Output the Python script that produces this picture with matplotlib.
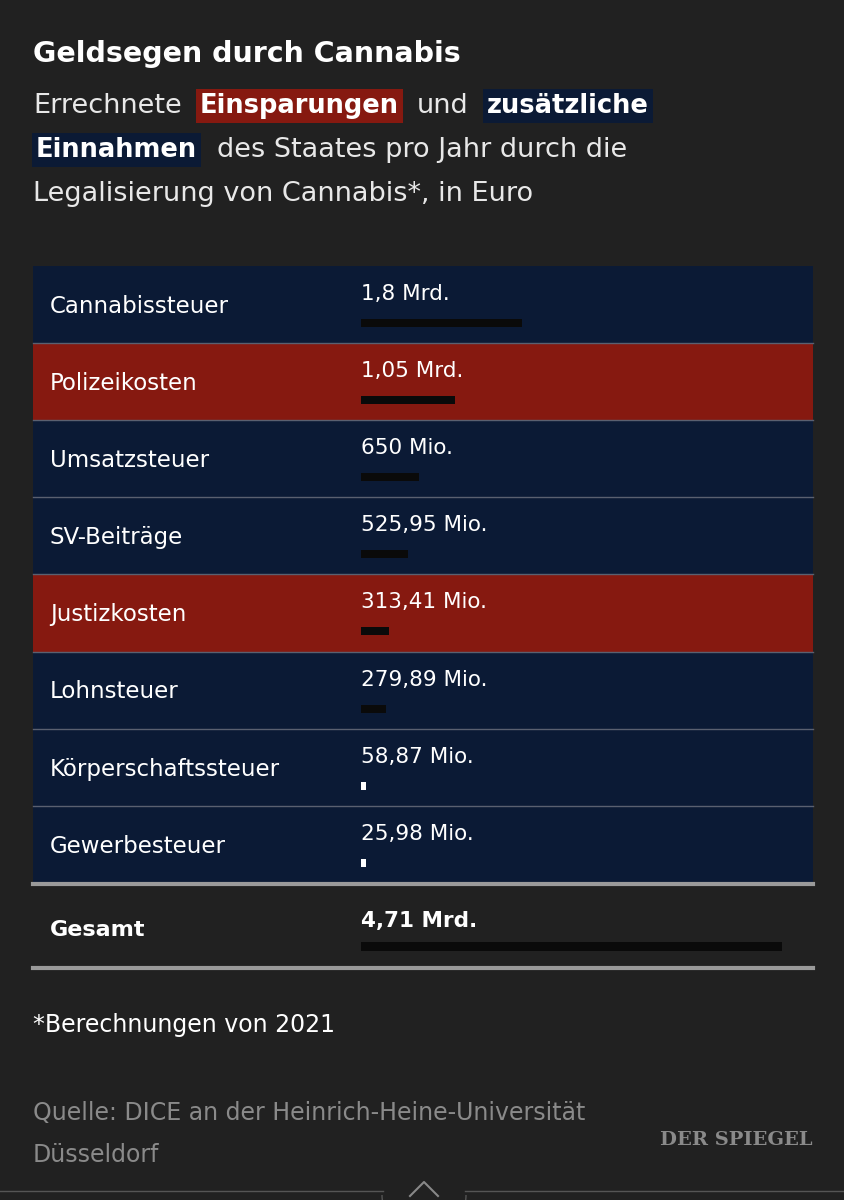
import matplotlib.pyplot as plt
from matplotlib.patches import Rectangle, Arc

labels = ["Cannabissteuer", "Polizeikosten", "Umsatzsteuer", "SV-Beiträge",
          "Justizkosten", "Lohnsteuer", "Körperschaftssteuer", "Gewerbesteuer"]
values_mrd = [1.8, 1.05, 0.65, 0.52595, 0.31341, 0.27989, 0.05887, 0.02598]
value_labels = ["1,8 Mrd.", "1,05 Mrd.", "650 Mio.", "525,95 Mio.", "313,41 Mio.",
                "279,89 Mio.", "58,87 Mio.", "25,98 Mio."]
kinds = ["ein", "spar", "ein", "ein", "spar", "ein", "ein", "ein"]
total_mrd = 4.71
total_label = "4,71 Mrd."

BG = "#212121"
NAVY = "#0b1a35"
RED = "#861910"
colors = {"ein": NAVY, "spar": RED}

fig = plt.figure(figsize=(8.45, 12), dpi=100, facecolor=BG)
ax = fig.add_axes([0, 0, 1, 1])
ax.set_xlim(0, 845)
ax.set_ylim(1200, 0)
ax.axis("off")

ax.text(33, 62, "Geldsegen durch Cannabis", color="white", fontsize=20.5,
        fontweight="bold", va="baseline")
sub = dict(color="#e8e8e8", fontsize=19.5, va="baseline")
ax.text(33, 113, "Errechnete", **sub)
ax.text(200, 113, "Einsparungen", color="white", fontsize=18.5, fontweight="bold",
        va="baseline", bbox=dict(boxstyle="square,pad=0.15", fc=RED, ec="none"))
ax.text(417, 113, "und", **sub)
ax.text(487, 113, "zusätzliche", color="white", fontsize=18.5, fontweight="bold",
        va="baseline", bbox=dict(boxstyle="square,pad=0.15", fc=NAVY, ec="none"))
ax.text(36, 157, "Einnahmen", color="white", fontsize=18.5, fontweight="bold",
        va="baseline", bbox=dict(boxstyle="square,pad=0.15", fc=NAVY, ec="none"))
ax.text(217, 157, "des Staates pro Jahr durch die", **sub)
ax.text(33, 201, "Legalisierung von Cannabis*, in Euro", **sub)

top, h = 266, 77.1
for i, (lab, vl, k) in enumerate(zip(labels, value_labels, kinds)):
    y0 = top + i * h
    ax.add_patch(Rectangle((33, y0), 780, h, fc=colors[k], ec="none"))
    if i > 0:
        ax.plot([33, 813], [y0, y0], color="#5a6070", lw=1)
    ax.text(50, y0 + 47, lab, color="white", fontsize=16.5, va="baseline")
    ax.text(361, y0 + 34, vl, color="white", fontsize=15.5, va="baseline")

gy = top + 8 * h
ax.plot([33, 813], [gy + 1, gy + 1], color="#9a9a9a", lw=3)
ax.plot([33, 813], [968, 968], color="#9a9a9a", lw=3)
ax.text(50, 936, "Gesamt", color="white", fontsize=16, fontweight="bold", va="baseline")
ax.text(361, 927, total_label, color="white", fontsize=15.5, fontweight="bold", va="baseline")

ax.text(33, 1032, "*Berechnungen von 2021", color="white", fontsize=17, va="baseline")
ax.text(33, 1120, "Quelle: DICE an der Heinrich-Heine-Universität", color="#8a8a8a",
        fontsize=17, va="baseline")
ax.text(33, 1162, "Düsseldorf", color="#8a8a8a", fontsize=17, va="baseline")
ax.text(813, 1145, "DER SPIEGEL", color="#8a8a8a", fontsize=14, fontweight="bold",
        family="DejaVu Serif", ha="right", va="baseline")

ax.plot([0, 383], [1191, 1191], color="#555555", lw=1)
ax.plot([465, 845], [1191, 1191], color="#555555", lw=1)
ax.add_patch(Arc((424, 1195), 84, 84, theta1=0, theta2=180, color="#555555", lw=1))
ax.plot([410, 424, 438], [1196, 1182, 1196], color="#888888", lw=1.5)

# bars on their own value axes
bx = fig.add_axes([361 / 845, 1 - 968 / 1200, 452 / 845, (968 - 266) / 1200])
bx.set_xlim(0, 5.056)
bx.set_ylim(968, 266)
bx.axis("off")
bar_y = [top + i * h + 57 for i in range(len(values_mrd))]
bx.barh(bar_y, values_mrd, height=8, left=0, color="#0a0a0a")
bx.barh(bar_y[6:], [0.06 for v in values_mrd[6:]], height=8, color="white")
bx.barh([946], [total_mrd], height=9, color="#0a0a0a")

fig.savefig("out.png", dpi=100, facecolor=BG)
